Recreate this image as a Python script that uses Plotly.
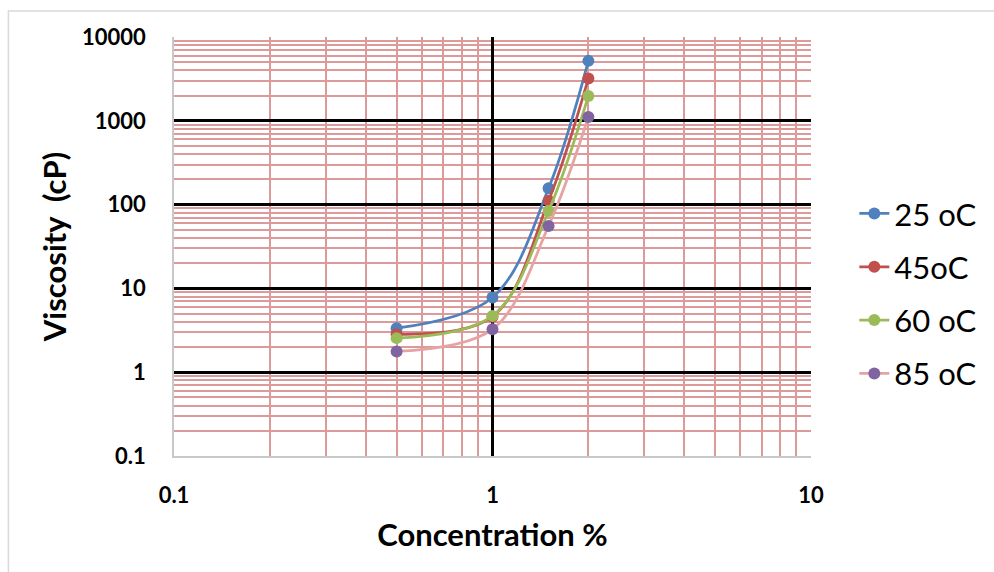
import plotly.graph_objects as go

concentration = [0.5, 1.0, 1.5, 2.0]
series_names = ["25 oC", "45oC", "60 oC", "85 oC"]
visc_25 = [3.35, 7.8, 157, 5190]
visc_45 = [2.84, 4.6, 111, 3200]
visc_60 = [2.55, 4.7, 84, 1980]
visc_85 = [1.77, 3.26, 55.7, 1110]
x_ticks = [0.1, 1, 10]
x_tick_text = ["0.1", "1", "10"]
y_ticks = [0.1, 1, 10, 100, 1000, 10000]
y_tick_text = ["0.1", "1", "10", "100", "1000", "10000"]

line_colors = ["#4F81BD", "#C0504D", "#9BBB59", "#E6A3A3"]
marker_colors = ["#4F81BD", "#C0504D", "#9BBB59", "#8064A2"]
all_values = [visc_25, visc_45, visc_60, visc_85]

FONT = "Lato"
fig = go.Figure()
for i, (name, vals) in enumerate(zip(series_names, all_values)):
    fig.add_trace(go.Scatter(
        x=concentration, y=vals, name=name, mode="lines+markers",
        line=dict(color=line_colors[i], width=2.75, shape="spline", smoothing=1.0),
        marker=dict(color=marker_colors[i], size=12),
        legendgroup=f"g{i}",
    ))

grid_pink = "#DC9A9A"
fig.update_xaxes(
    type="log", range=[-1, 1], tickvals=x_ticks, ticktext=x_tick_text,
    showgrid=True, gridcolor="black", gridwidth=2.5,
    minor=dict(dtick="D1", showgrid=True, gridcolor=grid_pink, gridwidth=2),
    showline=True, linecolor="#C8C8C8", linewidth=1.5, mirror=False,
    zeroline=False, ticks="", ticklabelstandoff=19,
    tickfont=dict(family=FONT, size=22, color="black", weight="bold"),
    title=dict(text="Concentration %", font=dict(family=FONT, size=31, color="black", weight="bold"), standoff=17),
)
fig.update_yaxes(
    type="log", range=[-1, 4], tickvals=y_ticks, ticktext=y_tick_text,
    showgrid=True, gridcolor="black", gridwidth=2.5,
    minor=dict(dtick="D1", showgrid=True, gridcolor=grid_pink, gridwidth=2),
    showline=True, linecolor="#C8C8C8", linewidth=1.5,
    zeroline=False, ticks="", ticklabelstandoff=22,
    tickfont=dict(family=FONT, size=22, color="black", weight="bold"),
    title=dict(text="Viscosity  (cP)", font=dict(family=FONT, size=31, color="black", weight="bold"), standoff=6),
)

fig.add_shape(type="rect", xref="paper", yref="paper",
              x0=-0.26, y0=-0.6, x1=1.5, y1=1.062,
              line=dict(color="#D9D9D9", width=1.5), layer="below")

fig.update_layout(
    width=994, height=572,
    margin=dict(l=174, r=181, t=37, b=116),
    plot_bgcolor="white", paper_bgcolor="white",
    font=dict(family=FONT, color="black"),
    showlegend=True,
    legend=dict(x=1.068, y=0.387, yanchor="middle", xanchor="left",
                font=dict(family=FONT, size=31, color="black"),
                traceorder="grouped", tracegroupgap=10,
                bgcolor="rgba(0,0,0,0)"),
)

fig.write_html("out.html")
